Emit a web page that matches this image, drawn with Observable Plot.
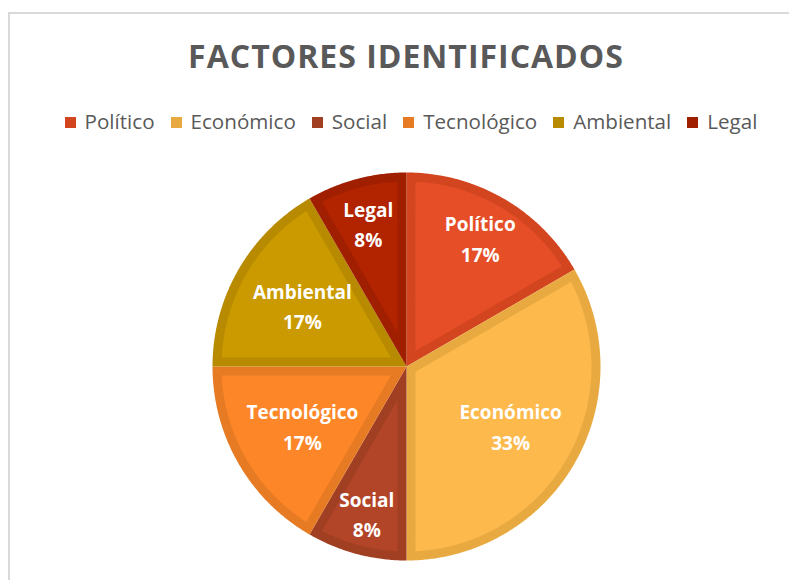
<!DOCTYPE html>
<html>
<head>
<meta charset="utf-8">
<script src="https://cdn.jsdelivr.net/npm/d3@7"></script>
<script src="https://cdn.jsdelivr.net/npm/@observablehq/plot@0.6"></script>
<style>
  html, body { margin: 0; padding: 0; background: #ffffff; }
  #wrap { position: relative; width: 789px; height: 580px; overflow: hidden; font-family: "Open Sans", sans-serif; }
  #frame { position: absolute; left: 8px; top: 12px; width: 900px; height: 700px; border-left: 2px solid #d9d9d9; border-top: 2px solid #d9d9d9; box-sizing: border-box; pointer-events: none; }
  #title { position: absolute; left: 0; width: 812px; top: 34px; text-align: center; font-weight: 700; font-size: 32px; letter-spacing: 1px; color: #595959; line-height: 44px; white-space: nowrap; }
  #legend { position: absolute; left: 0; width: 822px; top: 107px; display: flex; justify-content: center; gap: 16px; color: #595959; font-size: 20.6px; line-height: 28px; white-space: nowrap; }
  #legend .item { display: flex; align-items: center; gap: 9px; }
  #legend .sw { width: 11px; height: 11px; display: inline-block; margin-top: 2px; }
  #chart { position: absolute; left: 0; top: 160px; }
</style>
</head>
<body>
<div id="wrap">
  <div id="frame"></div>
  <div id="title"></div>
  <div id="legend"></div>
  <div id="chart"></div>
</div>
<script>
// ---- data ----
const titleText = "FACTORES IDENTIFICADOS";
const categories = ["Político", "Económico", "Social", "Tecnológico", "Ambiental", "Legal"];
const values = [2, 4, 1, 2, 2, 1];

// ---- styles ----
const fillColors = ["#e54e26", "#fdb94b", "#b24527", "#fd8628", "#ca9a00", "#b22300"];
const borderColors = ["#d2451f", "#e8aa40", "#a13f22", "#e77b24", "#b88a00", "#a01f00"];
const labelRadius = [0.76, 0.62, 0.79, 0.62, 0.62, 0.76];

const total = d3.sum(values);
const pctLabels = values.map(v => Math.round(v / total * 100) + "%");

document.getElementById("title").textContent = titleText;
const legend = d3.select("#legend");
categories.forEach((c, i) => {
  const it = legend.append("div").attr("class", "item");
  it.append("span").attr("class", "sw").style("background", borderColors[i]);
  it.append("span").text(c);
});

// ---- geometry from the data ----
const R = 1;
const bw = 9 / 194; // border width in radius units
const arcs = d3.pie().sort(null).value(v => v)(values);
const outer = [], inner = [], labels = [];
arcs.forEach((a, i) => {
  const a0 = a.startAngle, a1 = a.endAngle;
  const n = Math.max(8, Math.ceil((a1 - a0) / (Math.PI / 360)));
  outer.push({key: i, x: 0, y: 0, color: borderColors[i]});
  for (let k = 0; k <= n; k++) {
    const t = a0 + (a1 - a0) * k / n;
    outer.push({key: i, x: R * Math.sin(t), y: R * Math.cos(t), color: borderColors[i]});
  }
  const half = (a1 - a0) / 2, mid = (a0 + a1) / 2;
  const ap = bw / Math.sin(half);
  inner.push({key: i, x: ap * Math.sin(mid), y: ap * Math.cos(mid), color: fillColors[i]});
  const Ri = R - bw, da = Math.asin(bw / Ri);
  const b0 = a0 + da, b1 = a1 - da;
  for (let k = 0; k <= n; k++) {
    const t = b0 + (b1 - b0) * k / n;
    inner.push({key: i, x: Ri * Math.sin(t), y: Ri * Math.cos(t), color: fillColors[i]});
  }
  const lr = labelRadius[i];
  labels.push({x: lr * Math.sin(mid), y: lr * Math.cos(mid), text: categories[i] + "\n" + pctLabels[i]});
});

const chart = Plot.plot({
  width: 789,
  height: 420,
  margin: 0,
  style: {background: "transparent", overflow: "visible"},
  x: {domain: [-1, 1], range: [212, 600], axis: null},
  y: {domain: [-1, 1], range: [400, 12], axis: null},
  marks: [
    Plot.line(outer, {x: "x", y: "y", z: "key", fill: "color", stroke: "none"}),
    Plot.line(inner, {x: "x", y: "y", z: "key", fill: "color", stroke: "none"}),
    Plot.text(labels, {x: "x", y: "y", dy: -2, text: "text", fill: "white", fontSize: 19, fontWeight: "bold", fontFamily: "Open Sans", lineHeight: 1.6})
  ]
});
document.getElementById("chart").appendChild(chart);
</script>
</body>
</html>
